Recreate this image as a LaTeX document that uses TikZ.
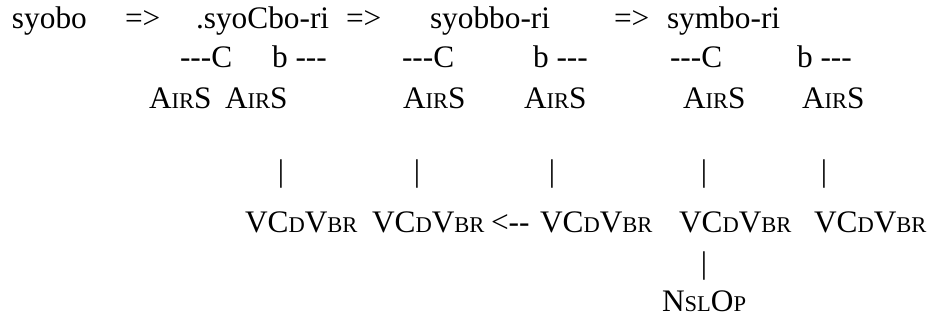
\documentclass[tikz,border=0pt]{standalone}
\usepackage{fontspec}
\setmainfont{Liberation Serif}[Ligatures=TeXOff]
\newcommand\smc[1]{{\fontsize{16.9pt}{20pt}\selectfont #1}}
\tikzset{
  txt/.style={inner sep=0pt, outer sep=0pt, anchor=base west, font=\fontsize{23.5pt}{28pt}\selectfont},
  barglyph/.style={inner sep=0pt, outer sep=0pt, anchor=center, font=\fontsize{23.5pt}{28pt}\selectfont}
}
\begin{document}
\begin{tikzpicture}[x=0.75pt,y=-0.75pt]
\useasboundingbox (0,0) rectangle (930,327);
% row 1
\node[txt] (s1) at (12,29) {syobo};
\node[txt] (a1) at (125,29) {=>};
\node[txt] (s2) at (196,29) {.syoCbo-ri};
\node[txt] (a2) at (346,29) {=>};
\node[txt] (s3) at (430,29) {syobbo-ri};
\node[txt] (a3) at (614,29) {=>};
\node[txt] (s4) at (667,29) {symbo-ri};
% row 2
\node[txt] (c1) at (180,68) {---C};
\node[txt] (b1) at (272,68) {b ---};
\node[txt] (c2) at (402,68) {---C};
\node[txt] (b2) at (533,68) {b ---};
\node[txt] (c3) at (670,68) {---C};
\node[txt] (b3) at (797,68) {b ---};
% row 3
\node[txt] (r1) at (149,109) {A\smc{IR}S};
\node[txt] (r2) at (225,109) {A\smc{IR}S};
\node[txt] (r3) at (403,109) {A\smc{IR}S};
\node[txt] (r4) at (524,109) {A\smc{IR}S};
\node[txt] (r5) at (683,109) {A\smc{IR}S};
\node[txt] (r6) at (802,109) {A\smc{IR}S};
% bars
\node[barglyph] (p1) at (281,174) {|};
\node[barglyph] (p2) at (417,174) {|};
\node[barglyph] (p3) at (552,174) {|};
\node[barglyph] (p4) at (704,174) {|};
\node[barglyph] (p5) at (824,174) {|};
% row VCDVBR
\node[txt] (v1) at (245,233) {VC\smc{D}V\smc{BR}};
\node[txt] (v2) at (372,233) {VC\smc{D}V\smc{BR}};
\node[txt] (la) at (491,233) {<--};
\node[txt] (v3) at (540,233) {VC\smc{D}V\smc{BR}};
\node[txt] (v4) at (679,233) {VC\smc{D}V\smc{BR}};
\node[txt] (v5) at (814,233) {VC\smc{D}V\smc{BR}};
% bar 2
\node[barglyph] (p6) at (704,266) {|};
% last
\node[txt] (n1) at (662,311) {N\smc{SL}O\smc{P}};
\end{tikzpicture}
\end{document}
